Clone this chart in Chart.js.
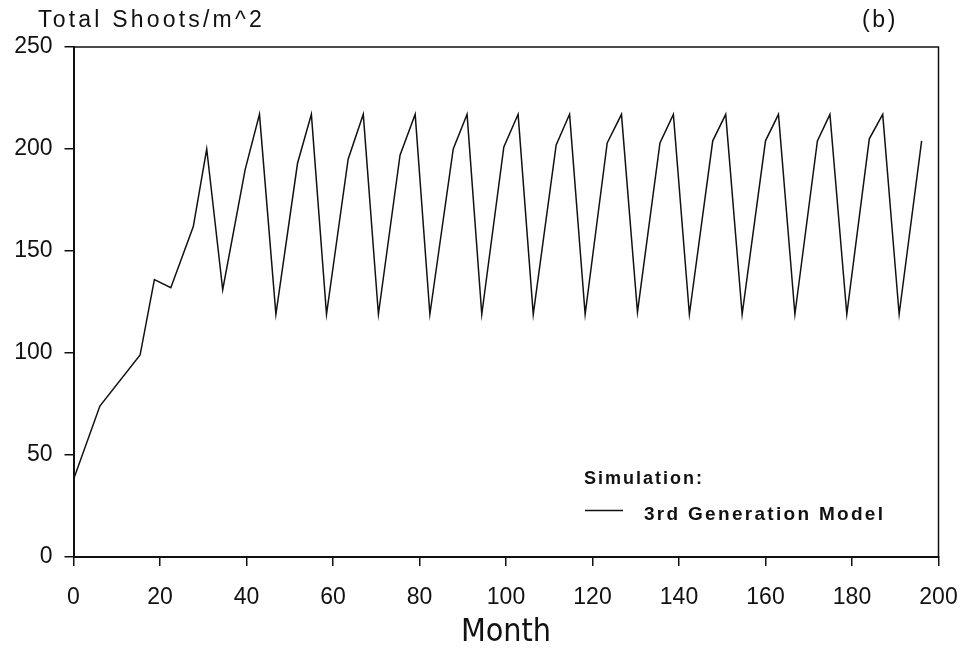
<!DOCTYPE html>
<html>
<head>
<meta charset="utf-8">
<script src="https://cdn.jsdelivr.net/npm/chart.js@4/dist/chart.umd.min.js"></script>
<style>
  html, body { margin: 0; background: #fff; }
  canvas { display: block; }
</style>
</head>
<body>
<canvas id="shoots" width="970" height="652"></canvas>
<script>
// values (month, total shoots per m^2)
const months = [0, 6.1, 15.4, 18.7, 22.5, 27.7, 30.8, 34.5, 39.7, 43.0,
  46.8, 51.8, 55.0, 58.5, 63.5, 67.0, 70.5, 75.5, 79.0, 82.4,
  87.8, 91.0, 94.4, 99.5, 102.8, 106.3, 111.6, 114.7, 118.3, 123.4,
  126.7, 130.4, 135.6, 138.7, 142.4, 147.8, 150.8, 154.6, 160.0, 163.0,
  166.8, 172.0, 174.9, 178.8, 184.0, 187.1, 190.9, 196.1];
const shoots = [38, 74, 99, 136, 132, 162, 200, 131, 190, 217,
  119, 193, 217, 119, 195, 217, 119, 197, 217, 119,
  200, 217, 119, 201, 217, 119, 202, 217, 119, 203,
  217, 120, 203, 217, 119, 204, 217, 119, 204, 217,
  119, 204, 217, 119, 205, 217, 119, 204];

const xTicks = [0, 20, 40, 60, 80, 100, 120, 140, 160, 180, 200];
const yTicks = [0, 50, 100, 150, 200, 250];

const yTitle = 'Total Shoots/m^2';
const panelTag = '(b)';
const xTitle = 'Month';
const legendHeading = 'Simulation:';
const seriesName = '3rd Generation Model';

const INK = '#111';
const tickFont = { family: "'Liberation Sans', Arial, sans-serif", size: 23 };

// frame (top/right), header texts and the in-plot legend
const extras = {
  id: 'extras',
  afterDraw(chart) {
    const { ctx, chartArea: a } = chart;
    ctx.save();
    ctx.strokeStyle = INK;
    ctx.lineWidth = 1.5;
    ctx.beginPath();
    ctx.moveTo(a.left, a.top);
    ctx.lineTo(a.right, a.top);
    ctx.lineTo(a.right, a.bottom);
    ctx.stroke();

    ctx.fillStyle = INK;
    ctx.textBaseline = 'alphabetic';
    ctx.font = "23px 'Liberation Sans', Arial, sans-serif";
    ctx.letterSpacing = '3.2px';
    ctx.textAlign = 'left';
    ctx.fillText(yTitle, 38, 27);
    ctx.letterSpacing = '2.6px';
    ctx.fillText(panelTag, 862, 27);

    ctx.font = "bold 18px 'Liberation Sans', Arial, sans-serif";
    ctx.letterSpacing = '2px';
    ctx.fillText(legendHeading, 584, 484);
    ctx.font = "bold 19px 'Liberation Sans', Arial, sans-serif";
    ctx.letterSpacing = '2.3px';
    ctx.fillText(seriesName, 644, 520);

    ctx.lineWidth = 1.5;
    ctx.beginPath();
    ctx.moveTo(585, 510.5);
    ctx.lineTo(623, 510.5);
    ctx.stroke();
    ctx.restore();
  }
};

new Chart(document.getElementById('shoots'), {
  type: 'line',
  data: {
    datasets: [{
      label: seriesName,
      data: months.map((m, i) => ({ x: m, y: shoots[i] })),
      borderColor: INK,
      borderWidth: 1.5,
      pointRadius: 0,
      tension: 0,
      fill: false
    }]
  },
  options: {
    responsive: false,
    devicePixelRatio: 1,
    animation: false,
    layout: { padding: { left: 0, top: 47, right: 31.5, bottom: 0 } },
    plugins: { legend: { display: false }, tooltip: { enabled: false } },
    scales: {
      x: {
        type: 'linear',
        min: 0, max: 200,
        afterBuildTicks: s => { s.ticks = xTicks.map(v => ({ value: v })); },
        afterFit: s => { s.height = 95; s.paddingLeft = 0; s.paddingRight = 0; },
        grid: { drawOnChartArea: false, drawTicks: true, tickLength: 9, color: INK, lineWidth: 1.5 },
        border: { display: true, color: INK, width: 2 },
        ticks: { color: INK, font: tickFont, padding: 18, maxRotation: 0 },
        title: {
          display: true, text: xTitle, color: INK,
          font: { family: "'Liberation Sans Narrow', 'DejaVu Sans Condensed', Arial, sans-serif", size: 32 },
          padding: { top: 0, bottom: 0 }
        }
      },
      y: {
        min: 0, max: 250,
        afterBuildTicks: s => { s.ticks = yTicks.map(v => ({ value: v })); },
        afterFit: s => { s.width = 73.5; },
        grid: { drawOnChartArea: false, drawTicks: true, tickLength: 9, color: INK, lineWidth: 1.5 },
        border: { display: true, color: INK, width: 2 },
        ticks: { color: INK, font: tickFont, padding: 12 }
      }
    }
  },
  plugins: [extras]
});
</script>
</body>
</html>
